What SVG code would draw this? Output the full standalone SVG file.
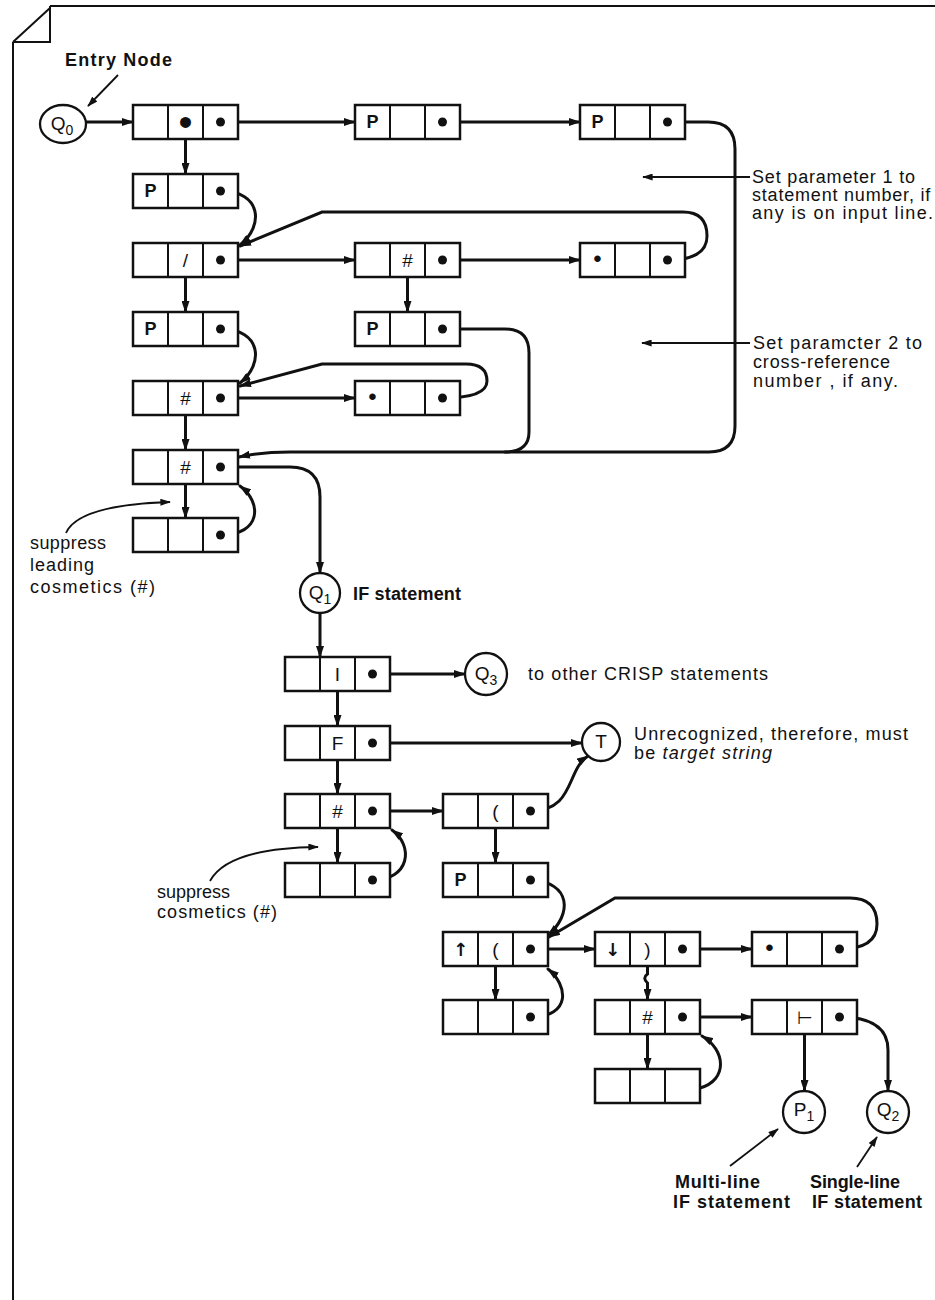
<svg xmlns="http://www.w3.org/2000/svg" xmlns:xlink="http://www.w3.org/1999/xlink" width="935" height="1300" viewBox="0 0 935 1300">
<style>
.bx rect{fill:#fff;stroke:#111;stroke-width:2.5}
.bx line{stroke:#111;stroke-width:2}
.dot{fill:#111}
.c{fill:none;stroke:#111;stroke-width:3;stroke-linecap:round}
.t{fill:none;stroke:#111;stroke-width:1.8}
.circ{fill:#fff;stroke:#111;stroke-width:2.3}
text{font-family:"Liberation Sans",Arial,sans-serif;fill:#111}
.cl{font-size:19px;text-anchor:middle}
.cb{font-size:18px;text-anchor:middle;font-weight:bold}
.sym{font-family:"DejaVu Sans",sans-serif;font-size:18px;text-anchor:middle;font-weight:bold}
.bul{font-size:24px;text-anchor:middle}
.bigbul{font-size:40px;text-anchor:middle}
.turn{font-family:"DejaVu Sans",sans-serif;font-size:18px;text-anchor:middle}
.nl{font-size:19px;text-anchor:middle}
.lab{font-size:18px}
.labb{font-size:18px;font-weight:bold}
.frame{fill:none;stroke:#111;stroke-width:2}
</style>
<defs>
<marker id="ah" viewBox="0 0 12 8" refX="11" refY="4" markerWidth="12" markerHeight="8" markerUnits="userSpaceOnUse" orient="auto"><path d="M0,0 L12,4 L0,8 z" fill="#111"/></marker>
<marker id="ahs" viewBox="0 0 12 8" refX="11" refY="4" markerWidth="11" markerHeight="7" markerUnits="userSpaceOnUse" orient="auto"><path d="M0,0 L12,4 L0,8 z" fill="#111"/></marker>
<g id="rec" class="bx"><rect x="0" y="0" width="105" height="34"/><line x1="35" y1="0" x2="35" y2="34"/><line x1="70" y1="0" x2="70" y2="34"/></g>
<circle id="pd" cx="87.5" cy="17" r="4.5" class="dot"/>
</defs>
<rect width="935" height="1300" fill="#fff"/>

<g id="frame">
<path class="frame" d="M50 6 L935 6 M13 42 L13 1300 M13 42 L50 8 M50 6 L50 42 L13 42"/>
</g>

<g id="connectors">
<path class="c" marker-end="url(#ah)" d="M86 122 L133 122"/>
<path class="c" marker-end="url(#ah)" d="M220.5 122 L355 122"/>
<path class="c" marker-end="url(#ah)" d="M442.5 122 L580 122"/>
<path class="c" marker-end="url(#ah)" d="M667.5 122 L708 122 Q735 122 735 149 L735 426 Q735 452 709 452 L290 452 Q262 452 239 457"/>
<path class="c" d="M442.5 329 L505 329 Q529 329 529 353 L529 432 Q529 452 505 452"/>
<path class="c" marker-end="url(#ah)" d="M185.5 139 L185.5 174"/>
<path class="c" marker-end="url(#ah)" d="M220.5 191 C262 191 264 226 240 245"/>
<path class="c" marker-end="url(#ah)" d="M667.5 260 Q707 260 707 236 Q707 212 683 212 L322 212 L240 246"/>
<path class="c" marker-end="url(#ah)" d="M220.5 260 L355 260"/>
<path class="c" marker-end="url(#ah)" d="M442.5 260 L580 260"/>
<path class="c" marker-end="url(#ah)" d="M185.5 277 L185.5 312"/>
<path class="c" marker-end="url(#ah)" d="M407.5 277 L407.5 312"/>
<path class="c" marker-end="url(#ah)" d="M220.5 329 C262 329 264 364 240 383"/>
<path class="c" marker-end="url(#ah)" d="M442.5 398 Q487 398 487 381 Q487 364 466 364 L322 364 L240 386"/>
<path class="c" marker-end="url(#ah)" d="M220.5 398 L355 398"/>
<path class="c" marker-end="url(#ah)" d="M185.5 415 L185.5 450"/>
<path class="c" marker-end="url(#ah)" d="M185.5 484 L185.5 518"/>
<path class="c" marker-end="url(#ah)" d="M220.5 535 C262 535 262 502 240 486"/>
<path class="c" marker-end="url(#ah)" d="M220.5 467 L290 467 Q320 467 320 497 L320 573"/>
<path class="c" marker-end="url(#ah)" d="M320 613 L320 657"/>
<path class="c" marker-end="url(#ah)" d="M372.5 674 L465 674"/>
<path class="c" marker-end="url(#ah)" d="M337.5 691 L337.5 726"/>
<path class="c" marker-end="url(#ah)" d="M372.5 743 L582 743"/>
<path class="c" marker-end="url(#ah)" d="M337.5 760 L337.5 794"/>
<path class="c" marker-end="url(#ah)" d="M372.5 811 L443 811"/>
<path class="c" marker-end="url(#ah)" d="M337.5 828 L337.5 863"/>
<path class="c" marker-end="url(#ah)" d="M372.5 880 C410 880 414 846 392 830"/>
<path class="c" marker-end="url(#ah)" d="M530.5 811 C575 811 566 770 588 756"/>
<path class="c" marker-end="url(#ah)" d="M495.5 828 L495.5 863"/>
<path class="c" marker-end="url(#ah)" d="M530.5 880 C572 882 572 915 548 935"/>
<path class="c" marker-end="url(#ah)" d="M839.5 949 Q877 949 877 924 Q877 898 850 898 L615 898 L549 937"/>
<path class="c" marker-end="url(#ah)" d="M530.5 949 L595 949"/>
<path class="c" marker-end="url(#ah)" d="M682.5 949 L752 949"/>
<path class="c" marker-end="url(#ah)" d="M495.5 966 L495.5 1000"/>
<path class="c" marker-end="url(#ah)" d="M530.5 1017 C572 1017 568 985 548 969"/>
<path class="c" marker-end="url(#ah)" d="M647.5 966 L647.5 974 Q642 978 647.5 983 L647.5 1000"/>
<path class="c" marker-end="url(#ah)" d="M682.5 1017 L752 1017"/>
<path class="c" marker-end="url(#ah)" d="M647.5 1034 L647.5 1069"/>
<path class="c" marker-end="url(#ah)" d="M700 1088 C728 1080 726 1050 702 1036"/>
<path class="c" marker-end="url(#ah)" d="M804.5 1034 L804.5 1091"/>
<path class="c" marker-end="url(#ah)" d="M839.5 1017 Q888 1017 888 1050 L888 1091"/>
</g>

<g id="annotations">
<path class="t" marker-end="url(#ahs)" d="M118 75 L88 106"/>
<path class="t" marker-end="url(#ahs)" d="M750 177 L643 177"/>
<path class="t" marker-end="url(#ahs)" d="M750 343 L642 343"/>
<path class="t" marker-end="url(#ahs)" d="M66 533 Q78 505 170 502"/>
<path class="t" marker-end="url(#ahs)" d="M210 881 Q228 848 318 847"/>
<path class="t" marker-end="url(#ahs)" d="M730 1166 L778 1129"/>
<path class="t" marker-end="url(#ahs)" d="M857 1167 L877 1137"/>
<text class="labb" x="65" y="66" textLength="107" lengthAdjust="spacing">Entry Node</text>
<text class="lab" x="752" y="183" textLength="163" lengthAdjust="spacing">Set parameter 1 to</text>
<text class="lab" x="752" y="201" letter-spacing="0.8">statement number, if</text>
<text class="lab" x="752" y="219" textLength="181" lengthAdjust="spacing">any is on input line.</text>
<text class="lab" x="753" y="349" textLength="169" lengthAdjust="spacing">Set paramcter 2 to</text>
<text class="lab" x="753" y="368" textLength="137" lengthAdjust="spacing">cross-reference</text>
<text class="lab" x="753" y="387" textLength="145" lengthAdjust="spacing">number , if any.</text>
<text class="lab" x="30" y="549" textLength="76" lengthAdjust="spacing">suppress</text>
<text class="lab" x="30" y="571" textLength="64" lengthAdjust="spacing">leading</text>
<text class="lab" x="30" y="593" textLength="125" lengthAdjust="spacing">cosmetics (#)</text>
<text class="labb" x="353" y="600" textLength="108" lengthAdjust="spacing">IF statement</text>
<text class="lab" x="528" y="680" textLength="240" lengthAdjust="spacing">to other CRISP statements</text>
<text class="lab" x="634" y="740" textLength="274" lengthAdjust="spacing">Unrecognized, therefore, must</text>
<text class="lab" x="634" y="759" textLength="138" lengthAdjust="spacing">be <tspan font-style="italic">target string</tspan></text>
<text class="lab" x="157" y="898" textLength="73" lengthAdjust="spacing">suppress</text>
<text class="lab" x="157" y="918" textLength="120" lengthAdjust="spacing">cosmetics (#)</text>
<text class="labb" x="675" y="1188" textLength="85" lengthAdjust="spacing">Multi-line</text>
<text class="labb" x="673" y="1208" textLength="117" lengthAdjust="spacing">IF statement</text>
<text class="labb" x="810" y="1188" textLength="90" lengthAdjust="spacing">Single-line</text>
<text class="labb" x="812" y="1208" textLength="110" lengthAdjust="spacing">IF statement</text>
</g>

<g id="Q0"><ellipse class="circ" cx="63" cy="124" rx="23" ry="19"/><text class="nl" x="62" y="130">Q<tspan font-size="14" dy="5">0</tspan></text></g>
<g id="Q1"><circle class="circ" cx="320" cy="593" r="20"/><text class="nl" x="320" y="599">Q<tspan font-size="14" dy="5">1</tspan></text></g>
<g id="Q3"><circle class="circ" cx="486" cy="674" r="21"/><text class="nl" x="486" y="680">Q<tspan font-size="14" dy="5">3</tspan></text></g>
<g id="T"><circle class="circ" cx="601" cy="742" r="19"/><text class="nl" x="601" y="748">T</text></g>
<g id="P1"><circle class="circ" cx="804" cy="1112" r="21"/><text class="nl" x="804" y="1116">P<tspan font-size="14" dy="5">1</tspan></text></g>
<g id="Q2"><circle class="circ" cx="888" cy="1112" r="21"/><text class="nl" x="888" y="1116">Q<tspan font-size="14" dy="5">2</tspan></text></g>

<g id="A1" transform="translate(133,105)"><use href="#rec"/><text class="bigbul" x="52.5" y="31">•</text><use href="#pd"/></g>
<g id="B1" transform="translate(355,105)"><use href="#rec"/><text class="cb" x="17.5" y="23">P</text><use href="#pd"/></g>
<g id="C1" transform="translate(580,105)"><use href="#rec"/><text class="cb" x="17.5" y="23">P</text><use href="#pd"/></g>
<g id="A2" transform="translate(133,174)"><use href="#rec"/><text class="cb" x="17.5" y="23">P</text><use href="#pd"/></g>
<g id="A3" transform="translate(133,243)"><use href="#rec"/><text class="cl" x="52.5" y="24">/</text><use href="#pd"/></g>
<g id="B3" transform="translate(355,243)"><use href="#rec"/><text class="cl" x="52.5" y="24">#</text><use href="#pd"/></g>
<g id="C3" transform="translate(580,243)"><use href="#rec"/><text class="bul" x="17.5" y="24">•</text><use href="#pd"/></g>
<g id="A4" transform="translate(133,312)"><use href="#rec"/><text class="cb" x="17.5" y="23">P</text><use href="#pd"/></g>
<g id="B4" transform="translate(355,312)"><use href="#rec"/><text class="cb" x="17.5" y="23">P</text><use href="#pd"/></g>
<g id="A5" transform="translate(133,381)"><use href="#rec"/><text class="cl" x="52.5" y="24">#</text><use href="#pd"/></g>
<g id="B5" transform="translate(355,381)"><use href="#rec"/><text class="bul" x="17.5" y="24">•</text><use href="#pd"/></g>
<g id="A6" transform="translate(133,450)"><use href="#rec"/><text class="cl" x="52.5" y="24">#</text><use href="#pd"/></g>
<g id="A7" transform="translate(133,518)"><use href="#rec"/><use href="#pd"/></g>

<g id="D1" transform="translate(285,657)"><use href="#rec"/><text class="cl" x="52.5" y="24">I</text><use href="#pd"/></g>
<g id="D2" transform="translate(285,726)"><use href="#rec"/><text class="cl" x="52.5" y="24">F</text><use href="#pd"/></g>
<g id="D3" transform="translate(285,794)"><use href="#rec"/><text class="cl" x="52.5" y="24">#</text><use href="#pd"/></g>
<g id="D4" transform="translate(285,863)"><use href="#rec"/><use href="#pd"/></g>
<g id="E1" transform="translate(443,794)"><use href="#rec"/><text class="cl" x="52.5" y="24">(</text><use href="#pd"/></g>
<g id="E2" transform="translate(443,863)"><use href="#rec"/><text class="cb" x="17.5" y="23">P</text><use href="#pd"/></g>
<g id="E3" transform="translate(443,932)"><use href="#rec"/><text class="sym" x="17.5" y="24">↑</text><text class="cl" x="52.5" y="24">(</text><use href="#pd"/></g>
<g id="E4" transform="translate(443,1000)"><use href="#rec"/><use href="#pd"/></g>
<g id="F1" transform="translate(595,932)"><use href="#rec"/><text class="sym" x="17.5" y="24">↓</text><text class="cl" x="52.5" y="24">)</text><use href="#pd"/></g>
<g id="F2" transform="translate(595,1000)"><use href="#rec"/><text class="cl" x="52.5" y="24">#</text><use href="#pd"/></g>
<g id="F3" transform="translate(595,1069)"><use href="#rec"/></g>
<g id="G1" transform="translate(752,932)"><use href="#rec"/><text class="bul" x="17.5" y="24">•</text><use href="#pd"/></g>
<g id="G2" transform="translate(752,1000)"><use href="#rec"/><text class="turn" x="52.5" y="24">⊢</text><use href="#pd"/></g>
</svg>
